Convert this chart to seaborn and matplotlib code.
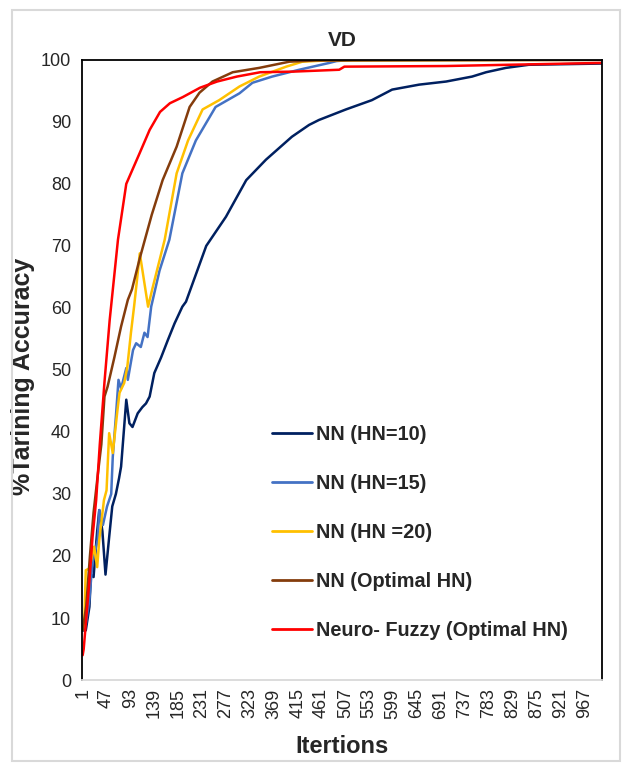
import pandas as pd
import numpy as np
from matplotlib import pyplot as plt
from matplotlib.patches import Rectangle
import seaborn as sns

# values (iteration, %accuracy)
nn10_it = [1, 7, 14, 17, 22, 25, 29, 33, 39, 45, 52, 58, 65, 71, 75, 85, 91, 97, 107, 116, 123, 130, 139,
           152, 165, 178, 193, 200, 239, 277, 316, 354, 404, 437, 456, 508, 558, 597, 649, 701, 751, 778,
           816, 860, 1000]
nn10_acc = [8, 8, 11.8, 17, 16.6, 19.9, 24, 27.4, 24, 17, 23, 28, 30, 32.5, 34.4, 45.2, 41.4, 40.8, 43, 44,
            44.6, 45.7, 49.5, 52, 54.8, 57.5, 60.2, 61, 70, 74.7, 80.6, 83.9, 87.6, 89.5, 90.3, 92, 93.5,
            95.2, 96, 96.5, 97.3, 98, 98.7, 99.2, 99.4]

nn15_it = [1, 7, 14, 20, 30, 33, 40, 48, 56, 59, 65, 70, 75, 85, 88, 98, 104, 113, 120, 126, 133, 149,
           168, 193, 219, 257, 303, 328, 366, 418, 476, 490, 520, 1000]
nn15_acc = [8, 9, 13, 19, 22.6, 27.4, 25, 28, 30, 36, 42.5, 48.4, 47, 50.3, 48.4, 53.2, 54.3, 53.7, 56,
            55.3, 60.2, 66, 71, 81.7, 87, 92.4, 94.6, 96.3, 97.3, 98.4, 99.5, 99.8, 100, 100]

nn20_it = [1, 4, 7, 14, 23, 29, 33, 42, 47, 52, 59, 68, 72, 81, 87, 94, 100, 105, 111, 127, 135, 159,
           182, 204, 232, 264, 303, 341, 393, 424, 470, 1000]
nn20_acc = [8.6, 8.6, 17.7, 18, 21.5, 18.2, 22.6, 29, 30.6, 39.8, 36.6, 43.5, 46.3, 47.9, 50.5, 56, 60.2,
            64, 68.8, 60.2, 63, 71, 81.7, 87, 92, 93.5, 95.7, 97.3, 98.9, 99.7, 99.9, 100]

nnopt_it = [1, 8, 15, 22, 30, 37, 43, 49, 62, 75, 88, 96, 111, 134, 155, 182, 207, 226, 251, 290, 341,
            399, 450, 1000]
nnopt_acc = [8, 12, 20, 27, 33, 38, 45.7, 47.3, 52, 57, 61.3, 63, 68, 75, 80.6, 86, 92.4, 94.7, 96.5,
             98, 98.7, 99.7, 99.9, 100]

nf_it = [1, 3, 7, 14, 20, 27, 34, 43, 53, 69, 85, 111, 130, 150, 169, 194, 227, 260, 298, 343, 407,
         495, 505, 700, 1000]
nf_acc = [4, 5, 9, 16, 23, 29, 38, 48, 58, 71, 80, 85, 88.7, 91.6, 93, 94, 95.5, 96.5, 97.3, 98, 98.1,
          98.4, 98.9, 99.0, 99.5]

labels = ["NN (HN=10)", "NN (HN=15)", "NN (HN =20)", "NN (Optimal HN)", "Neuro- Fuzzy (Optimal HN)"]
colors = ["#002060", "#4472C4", "#FFC000", "#843C0C", "#FF0000"]
xticks = list(range(1, 1001, 46))

series = [(nn10_it, nn10_acc), (nn15_it, nn15_acc), (nn20_it, nn20_acc),
          (nnopt_it, nnopt_acc), (nf_it, nf_acc)]
frames = []
for lab, (it, acc) in zip(labels, series):
    frames.append(pd.DataFrame({"Itertions": it, "Accuracy": acc, "Model": lab}))
df = pd.concat(frames, ignore_index=True)

sns.set_style("white")
plt.rcParams['font.family'] = ['Liberation Sans', 'DejaVu Sans']

fig = plt.figure(figsize=(6.27, 7.67), dpi=100)
ax = fig.add_axes([0.131, 0.1134, 0.829, 0.8086])

sns.lineplot(data=df, x="Itertions", y="Accuracy", hue="Model", hue_order=labels,
             palette=colors, estimator=None, sort=True, linewidth=1.8, ax=ax)

ax.set_xlim(0, 1001)
ax.set_ylim(0, 100)
ax.set_xticks(xticks)
ax.set_xticklabels([str(t) for t in xticks], rotation=90, fontsize=13)
ax.set_yticks(range(0, 101, 10))
ax.tick_params(axis='y', labelsize=13, length=0, pad=8)
ax.tick_params(axis='x', length=0, pad=6)
ax.set_xlabel("Itertions", fontsize=17, fontweight="bold", labelpad=12)
ax.set_ylabel("%Tarining Accuracy", fontsize=18, fontweight="bold")
ax.yaxis.set_label_coords(-0.09, 0.49)
ax.set_title("VD", fontsize=15, fontweight="bold", pad=10)

for s in ["left", "right", "top"]:
    ax.spines[s].set_color("black")
    ax.spines[s].set_linewidth(1.3)
ax.spines["bottom"].set_color("#D9D9D9")
ax.spines["bottom"].set_linewidth(1.3)

leg = ax.legend(loc="upper left", bbox_to_anchor=(0.331, 0.44), frameon=False,
                prop={"weight": "bold", "size": 14.3}, handlelength=2.0,
                handletextpad=0.2, labelspacing=1.51)
for line in leg.get_lines():
    line.set_linewidth(2)

fig.patches.append(Rectangle((0.019, 0.008), 0.97, 0.979, transform=fig.transFigure,
                             fill=False, edgecolor="#D9D9D9", linewidth=1.5))

fig.savefig("out.png", dpi=100)
